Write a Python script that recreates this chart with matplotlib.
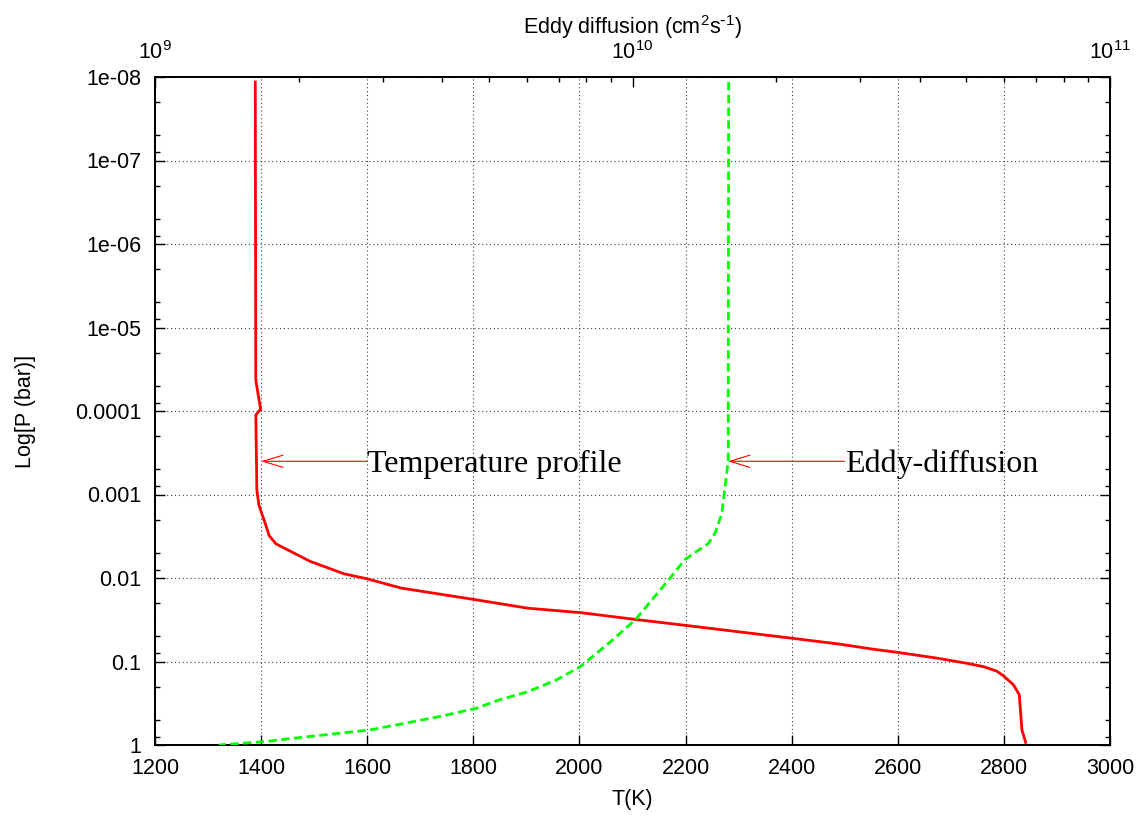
"""
Temperature profile and eddy diffusion vs pressure (gnuplot-like figure).
Run: python plot.py  -> out.png
"""

import matplotlib

matplotlib.use("Agg")
import matplotlib.pyplot as plt
from matplotlib.ticker import FixedLocator, FixedFormatter, LogLocator, NullFormatter

# temperature profile (red, bottom axis)
temp_T = [1389, 1390, 1399, 1390, 1392, 1396, 1410, 1415, 1428, 1492, 1556,
          1599, 1664, 1804, 1903, 2002, 2110, 2201, 2399, 2491, 2552, 2601,
          2673, 2730, 2761, 2786, 2799, 2818, 2829, 2834, 2841]
temp_P = [1.15e-8, 4.3e-5, 9.5e-5, 1.12e-4, 8.9e-4, 1.35e-3, 2.45e-3, 3.1e-3,
          3.9e-3, 6.3e-3, 8.9e-3, 1.02e-2, 1.32e-2, 1.82e-2, 2.3e-2, 2.6e-2,
          3.16e-2, 3.7e-2, 5.25e-2, 6.2e-2, 7.1e-2, 7.8e-2, 9.1e-2, 0.105,
          0.115, 0.13, 0.148, 0.19, 0.25, 0.66, 0.93]

# eddy diffusion (green, top axis)
eddy_K = [1.59e10, 1.587e10, 1.587e10, 1.555e10, 1.538e10, 1.489e10, 1.442e10,
          1.288e10, 1.208e10, 1.014e10, 8.93e9, 7.78e9, 6.93e9, 6.04e9,
          5.25e9, 4.69e9, 3.90e9, 3.36e9, 2.82e9, 1.95e9, 1.70e9, 1.36e9]
eddy_P = [1.15e-8, 4.3e-5, 3.9e-4, 1.02e-3, 1.7e-3, 2.9e-3, 3.85e-3, 6.0e-3,
          9.5e-3, 3.16e-2, 6.0e-2, 0.115, 0.166, 0.230, 0.289, 0.366, 0.462,
          0.545, 0.66, 0.83, 0.91, 1.0]

p_ticks = [1e-8, 1e-7, 1e-6, 1e-5, 1e-4, 1e-3, 1e-2, 1e-1, 1]
p_labels = ["1e-08", "1e-07", "1e-06", "1e-05", "0.0001", "0.001", "0.01", "0.1", "1"]
t_ticks = [1200, 1400, 1600, 1800, 2000, 2200, 2400, 2600, 2800, 3000]

# annotations: (text, tail T, head T, pressure)
notes = [("Temperature profile", 1600, 1400, 4e-4),
         ("Eddy-diffusion", 2500, 2280, 4e-4)]

SANS = "Liberation Sans"
SERIF = "Liberation Serif"
FS = 15.5


def main():
    plt.rcParams["font.family"] = [SANS, "DejaVu Sans"]
    plt.rcParams["font.size"] = FS
    plt.rcParams["mathtext.default"] = "regular"

    fig = plt.figure(figsize=(11.42, 8.18), dpi=100)
    ax = fig.add_axes([155 / 1142, 73 / 818, 955 / 1142, 668 / 818])

    ax.plot(temp_T, temp_P, color="#ff0000", lw=2.0, zorder=3)

    ax.set_yscale("log")
    ax.set_ylim(1, 1e-8)
    ax.set_xlim(1200, 3000)
    ax.xaxis.set_major_locator(FixedLocator(t_ticks))
    ax.yaxis.set_major_locator(FixedLocator(p_ticks))
    ax.yaxis.set_major_formatter(FixedFormatter(p_labels))
    ax.yaxis.set_minor_locator(LogLocator(base=10, subs=(2, 5, 8), numticks=20))
    ax.yaxis.set_minor_formatter(NullFormatter())

    ax.grid(True, which="major", color="0.25", lw=0.8, ls=(0, (1, 2.5)))
    ax.tick_params(which="both", direction="in", top=True, right=True, width=1.0)
    ax.tick_params(which="major", length=7)
    ax.tick_params(which="minor", length=3.5)
    ax.tick_params(axis="x", pad=9)
    ax.tick_params(axis="y", pad=10)
    for sp in ax.spines.values():
        sp.set_linewidth(1.4)

    ax.set_xlabel("T(K)")
    ax.xaxis.set_label_coords(0.5, -0.066)
    ax.set_ylabel("Log[P (bar)]")
    ax.yaxis.set_label_coords(-0.125, 0.5)

    for text, t0, t1, p in notes:
        ax.annotate("", xy=(t1, p), xytext=(t0, p),
                    arrowprops=dict(arrowstyle="->,head_length=0.72,head_width=0.22",
                                    mutation_scale=20, color="#ff0000", lw=0.8,
                                    shrinkA=0, shrinkB=0))
        ax.annotate(text, xy=(t0, p), xytext=(0, -7.6), textcoords="offset points",
                    ha="left", va="baseline", fontsize=23, family=[SERIF, "DejaVu Serif"])

    top = ax.twiny()
    top.set_xscale("log")
    top.set_xlim(1e9, 1e11)
    top.plot(eddy_K, eddy_P, color="#00ff00", lw=2.0, ls=(0, (3, 1.6)), zorder=3)
    top.set_ylim(1, 1e-8)
    top.xaxis.set_minor_locator(LogLocator(base=10, subs=range(2, 10), numticks=20))
    top.xaxis.set_minor_formatter(NullFormatter())
    top.tick_params(which="both", direction="in", width=1.0, pad=9.5)
    top.tick_params(which="major", length=7)
    top.tick_params(which="minor", length=3.5)
    for sp in top.spines.values():
        sp.set_linewidth(1.4)
    top.set_xlabel(r"Eddy diffusion (cm$^2$s$^{\text{-}1}$)")
    top.xaxis.set_label_coords(0.5, 1.064)

    fig.savefig("out.png", dpi=100)


if __name__ == "__main__":
    main()
